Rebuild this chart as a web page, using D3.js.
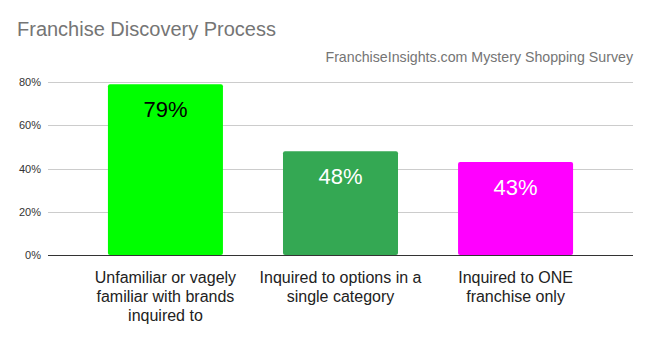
<!DOCTYPE html>
<html>
<head>
<meta charset="utf-8">
<script src="https://cdn.jsdelivr.net/npm/d3@7"></script>
<style>
  html, body { margin: 0; padding: 0; background: #fff; }
  svg { display: block; font-family: Arial, "Liberation Sans", sans-serif; }
</style>
</head>
<body>
<svg id="chart" width="650" height="337"></svg>
<script>
// Survey answers, share of respondents
const categories = [
  ["Unfamiliar or vagely", "familiar with brands", "inquired to"],
  ["Inquired to options in a", "single category"],
  ["Inquired to ONE", "franchise only"]
];
const values = [0.79, 0.48, 0.43];
const barColors = ["#00ff00", "#34a853", "#ff00ff"];
const labelColors = ["#000000", "#ffffff", "#ffffff"];
const yTicks = [0, 0.2, 0.4, 0.6, 0.8];

const svg = d3.select("#chart");
const gridLeft = 48, gridRight = 633;
const bandLeft = 78, bandRight = 603;
const FONT = "Arial, 'Liberation Sans', sans-serif";

const y = d3.scaleLinear().domain([0, 0.8]).range([255, 82]);
const x = d3.scaleBand().domain(d3.range(values.length))
  .range([bandLeft, bandRight]).paddingInner(0.343).paddingOuter(0.171);

// Title and subtitle
svg.append("text").attr("x", 17).attr("y", 36)
  .attr("font-size", 20).attr("fill", "#757575")
  .text("Franchise Discovery Process");
svg.append("text").attr("x", 633).attr("y", 62)
  .attr("text-anchor", "end").attr("font-size", 14.2).attr("fill", "#757575")
  .text("FranchiseInsights.com Mystery Shopping Survey");

// Horizontal gridlines
svg.append("g").selectAll("line").data(yTicks.filter(d => d > 0)).join("line")
  .attr("x1", gridLeft).attr("x2", gridRight)
  .attr("y1", d => Math.round(y(d)) + 0.5).attr("y2", d => Math.round(y(d)) + 0.5)
  .attr("stroke", "#cccccc").attr("stroke-width", 1);

// Y axis tick labels
const yAxis = d3.axisLeft(y).tickValues(yTicks).tickFormat(d3.format(".0%")).tickSize(0).tickPadding(0);
const ya = svg.append("g").attr("transform", `translate(${gridLeft - 7},0)`).call(yAxis);
ya.select(".domain").remove();
ya.selectAll("text").attr("font-size", 11).attr("fill", "#333333")
  .attr("font-family", FONT);

// Bars
svg.append("g").selectAll("rect").data(values).join("rect")
  .attr("x", (d, i) => x(i)).attr("width", x.bandwidth())
  .attr("y", d => y(d)).attr("height", d => y(0) - y(d))
  .attr("rx", 2).attr("ry", 2)
  .attr("fill", (d, i) => barColors[i]);

// Baseline
svg.append("line").attr("x1", gridLeft).attr("x2", gridRight)
  .attr("y1", y(0) + 0.5).attr("y2", y(0) + 0.5)
  .attr("stroke", "#333333").attr("stroke-width", 1);

// Value labels inside bars
svg.append("g").selectAll("text").data(values).join("text")
  .attr("x", (d, i) => x(i) + x.bandwidth() / 2)
  .attr("y", d => y(d) + 33)
  .attr("text-anchor", "middle").attr("font-size", 22)
  .attr("font-family", FONT)
  .attr("fill", (d, i) => labelColors[i])
  .text(d => d3.format(".0%")(d));

// Category labels, wrapped
const cat = svg.append("g").selectAll("text").data(categories).join("text")
  .attr("text-anchor", "middle").attr("font-size", 16).attr("fill", "#222222");
cat.each(function(lines, i) {
  d3.select(this).selectAll("tspan").data(lines).join("tspan")
    .attr("x", x(i) + x.bandwidth() / 2)
    .attr("y", (l, j) => 283 + j * 19)
    .text(l => l);
});
</script>
</body>
</html>
